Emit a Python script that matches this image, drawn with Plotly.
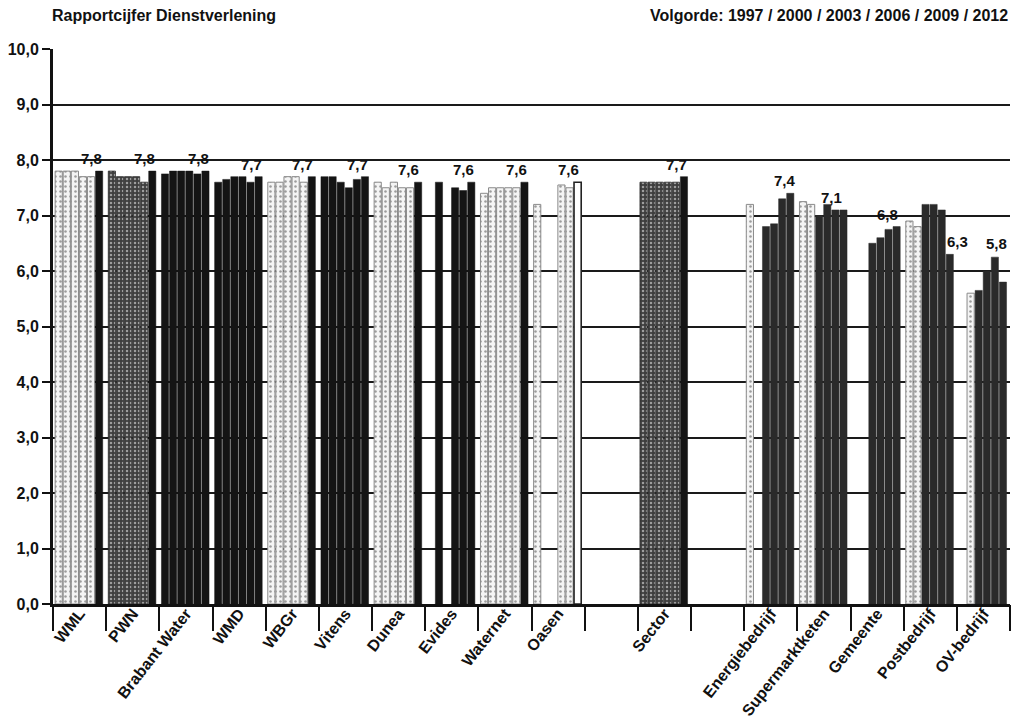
import plotly.graph_objects as go

categories = ["WML", "PWN", "Brabant Water", "WMD", "WBGr", "Vitens", "Dunea", "Evides",
              "Waternet", "Oasen", " ", "Sector", "  ", "Energiebedrijf", "Supermarktketen",
              "Gemeente", "Postbedrijf", "OV-bedrijf"]
years = ["1997", "2000", "2003", "2006", "2009", "2012"]

v1997 = [7.8, 7.8, 7.75, 7.6, 7.6, 7.7, 7.6, None, 7.4, 7.2, None, 7.6, None, 7.2, 7.25, None, 6.9, None]
v2000 = [7.8, 7.7, 7.8, 7.65, 7.6, 7.7, 7.5, 7.6, 7.5, None, None, 7.6, None, None, 7.2, None, 6.8, 5.6]
v2003 = [7.8, 7.7, 7.8, 7.7, 7.7, 7.6, 7.6, None, 7.5, None, None, 7.6, None, 6.8, 7.0, 6.5, 7.2, 5.65]
v2006 = [7.7, 7.7, 7.8, 7.7, 7.7, 7.5, 7.5, 7.5, 7.5, 7.55, None, 7.6, None, 6.85, 7.2, 6.6, 7.2, 6.0]
v2009 = [7.7, 7.6, 7.75, 7.6, 7.6, 7.65, 7.5, 7.45, 7.5, 7.5, None, 7.6, None, 7.3, 7.1, 6.75, 7.1, 6.25]
v2012 = [7.8, 7.8, 7.8, 7.7, 7.7, 7.7, 7.6, 7.6, 7.6, 7.6, None, 7.7, None, 7.4, 7.1, 6.8, 6.3, 5.8]
series = [v1997, v2000, v2003, v2006, v2009, v2012]

title_left = "Rapportcijfer Dienstverlening"
title_right = "Volgorde: 1997 / 2000 / 2003 / 2006 / 2009 / 2012"

# ---- styling (not data) ----
tones = ["lllllD", "mmmmmD", "DDDDDD", "DDDDDD", "lllllD", "DDDDDD", "lllllD", "-D-DDD",
         "lllllD", "l--llo", "------", "mmmmmD", "------", "l-dddd", "lldddd", "--dddd",
         "lldddd", "-ldddd"]
label_xshift = [12, 12, 13, 12, 10, 12, 10, 12, 12, 10, 0, 12, 0, 14, 8, 10, 27, 13]
label_yshift = [2, 2, 2, 2, 2, 2, 2, 2, 2, 2, 0, 2, 0, 2, 2, 2, 2, 28]
STY = {
    "D": dict(bg="#141414", shape="", fg="#141414", size=4, sol=0.3, line="#141414", lw=0.5),
    "d": dict(bg="#2a2a2a", shape="", fg="#2a2a2a", size=4, sol=0.3, line="#2a2a2a", lw=0.5),
    "m": dict(bg="#3e3e3e", shape=".", fg="#c8c8c8", size=4, sol=0.3, line="#2a2a2a", lw=0.8),
    "l": dict(bg="#f4f4f4", shape=".", fg="#707070", size=5, sol=0.2, line="#8a8a8a", lw=1),
    "o": dict(bg="#ffffff", shape="", fg="#ffffff", size=4, sol=0.3, line="#222222", lw=1.6),
    "-": dict(bg="#ffffff", shape="", fg="#ffffff", size=4, sol=0.3, line="#ffffff", lw=0),
}
BAR_W = 0.135      # bar width in category units
BAR_PITCH = 0.152  # distance between bars of one group
GROUP_START = -0.46

FONT = "Liberation Sans, Arial, sans-serif"
INK = "#111111"

fig = go.Figure()
for j, (yr, vals) in enumerate(zip(years, series)):
    st = [STY[t[j]] for t in tones]
    fig.add_trace(go.Bar(
        x=categories, y=vals, name=yr,
        width=BAR_W, offset=GROUP_START + j * BAR_PITCH,
        marker=dict(
            color=[s["bg"] for s in st],
            line=dict(color=[s["line"] for s in st], width=[s["lw"] for s in st]),
            pattern=dict(shape=[s["shape"] for s in st], fgcolor=[s["fg"] for s in st],
                         bgcolor=[s["bg"] for s in st], size=[s["size"] for s in st],
                         solidity=[s["sol"] for s in st]),
        ),
        hoverinfo="skip",
    ))

# invisible trace carrying the boundary tick marks axis
fig.add_trace(go.Scatter(x=categories, y=[0] * len(categories), xaxis="x2", mode="markers",
                         marker=dict(opacity=0), hoverinfo="skip", showlegend=False))

annotations = []
for cat, val, sx, sy in zip(categories, v2012, label_xshift, label_yshift):
    if val is None:
        continue
    annotations.append(dict(
        x=cat, y=val, xref="x", yref="y", text=f"{val:.1f}".replace(".", ","),
        showarrow=False, xanchor="center", yanchor="bottom", xshift=sx, yshift=sy,
        font=dict(family=FONT, size=15, color=INK, weight="bold")))
annotations += [
    dict(text=title_left, xref="paper", yref="paper", x=0, y=1, xanchor="left",
         yanchor="middle", xshift=-3, yshift=34, showarrow=False,
         font=dict(family=FONT, size=16, color=INK, weight="bold")),
    dict(text=title_right, xref="paper", yref="paper", x=1, y=1, xanchor="right",
         yanchor="middle", xshift=0, yshift=34, showarrow=False,
         font=dict(family=FONT, size=16, color=INK, weight="bold")),
]

fig.update_layout(
    width=1012, height=726,
    margin=dict(l=53, r=2, t=49, b=122),
    paper_bgcolor="white", plot_bgcolor="white",
    separators=",.",
    barmode="group",
    showlegend=False,
    font=dict(family=FONT, color=INK),
    xaxis=dict(type="category", categoryorder="array", categoryarray=categories,
               range=[-0.5, len(categories) - 0.5],
               showgrid=False, showline=True, linecolor=INK, linewidth=3,
               ticks="", tickangle=-52, ticklabelstandoff=-9,
               tickfont=dict(family=FONT, size=16, color=INK, weight="bold")),
    xaxis2=dict(type="category", categoryorder="array", categoryarray=categories,
                range=[-0.5, len(categories) - 0.5], overlaying="x", anchor="y", side="bottom",
                showgrid=False, showline=False, showticklabels=False,
                ticks="outside", tickson="boundaries", ticklen=26, tickwidth=2, tickcolor=INK),
    yaxis=dict(range=[0, 10], dtick=1, tickformat=".1f",
               showgrid=True, gridcolor="#1a1a1a", gridwidth=2,
               showline=True, linecolor=INK, linewidth=3,
               ticks="outside", ticklen=8, tickwidth=2, tickcolor=INK,
               zeroline=False,
               tickfont=dict(family=FONT, size=16, color=INK, weight="bold")),
    annotations=annotations,
)

fig.write_html("out.html", config={"displayModeBar": False},
               post_script="document.body.style.margin='0';")
